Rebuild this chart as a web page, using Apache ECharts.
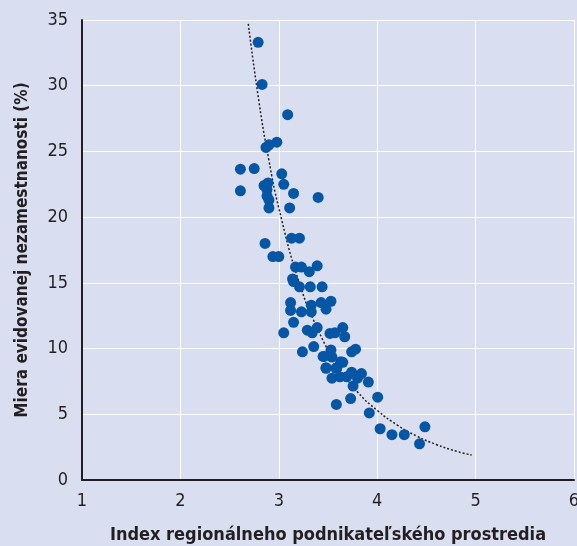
<!DOCTYPE html>
<html lang="sk">
<head>
<meta charset="UTF-8">
<title>Index regionálneho podnikateľského prostredia</title>
<script src="https://cdn.jsdelivr.net/npm/echarts@6/dist/echarts.min.js"></script>
<style>
  html, body { margin: 0; padding: 0; background: #d9dff0; }
  #main { width: 577px; height: 546px; }
</style>
</head>
<body>
<div id="main"></div>
<script>
// index regionálneho podnikateľského prostredia (x) a miera nezamestnanosti (y)
var indexVals = [
  2.79, 2.83, 3.09, 2.98, 2.87, 2.90,
  2.61, 2.75, 3.03, 3.05, 2.85, 2.61, 2.88, 2.88, 2.90, 2.89, 3.15, 3.40, 2.90, 3.11,
  2.86, 3.13, 3.21, 2.94, 3.00, 3.17, 3.23, 3.39, 3.31, 3.14,
  3.15, 3.21, 3.32, 3.44, 3.12, 3.12, 3.23, 3.33, 3.33, 3.43, 3.53, 3.48,
  3.15, 3.05, 3.29, 3.34, 3.39, 3.52, 3.57, 3.65, 3.67,
  3.24, 3.355, 3.46, 3.53, 3.54, 3.63, 3.74, 3.78, 3.48, 3.59,
  3.45, 3.65, 3.48, 3.54, 3.58, 3.62, 3.69, 3.74, 3.84, 3.91, 3.80, 3.755,
  3.73, 3.585, 4.005, 3.92, 4.03, 4.15, 4.275, 4.485, 4.43
];
var unemployment = [
  33.3, 30.1, 27.8, 25.7, 25.3, 25.5,
  23.65, 23.7, 23.3, 22.5, 22.4, 22.0, 22.1, 21.6, 21.3, 22.6, 21.8, 21.5, 20.7, 20.7,
  18.0, 18.4, 18.4, 17.0, 17.0, 16.2, 16.2, 16.3, 15.85, 15.3,
  15.1, 14.7, 14.7, 14.7, 13.5, 12.9, 12.8, 13.3, 12.8, 13.5, 13.6, 13.0,
  12.0, 11.2, 11.4, 11.2, 11.6, 11.15, 11.2, 11.6, 10.9,
  9.75, 10.15, 9.4, 9.9, 9.35, 9.0, 9.75, 9.95, 8.55, 8.55,
  9.4, 8.95, 8.5, 7.75, 8.5, 7.85, 7.85, 8.2, 8.1, 7.45, 7.75, 7.15,
  6.2, 5.75, 6.3, 5.1, 3.9, 3.45, 3.45, 4.05, 2.75
];
// bodkovaná krivka trendu odčítaná z obrázka
var trendX = [2.69, 2.8, 2.9, 3.0, 3.2, 3.4, 3.6, 3.8, 4.0, 4.2, 4.4, 4.6, 4.8, 4.96];
var trendY = [34.7, 28.7, 24.3, 20.7, 15.2, 11.4, 8.7, 6.7, 5.3, 4.2, 3.35, 2.7, 2.2, 1.9];

var xTicks = [1, 2, 3, 4, 5, 6];
var yTicks = [0, 5, 10, 15, 20, 25, 30, 35];

var font = '"Liberation Sans Narrow", "DejaVu Sans Condensed", "Liberation Sans", sans-serif';

var points = indexVals.map(function (v, i) { return [v, unemployment[i]]; });
var trend = trendX.map(function (v, i) { return [v, trendY[i]]; });

var chart = echarts.init(document.getElementById('main'));
chart.setOption({
  backgroundColor: '#d9dff0',
  animation: false,
  grid: { left: 82, right: 3, top: 20, bottom: 66, outerBoundsMode: 'none' },
  xAxis: {
    type: 'value',
    min: xTicks[0], max: xTicks[xTicks.length - 1], interval: 1,
    name: 'Index regionálneho podnikateľského prostredia',
    nameLocation: 'middle', nameGap: 46,
    nameTextStyle: { fontFamily: font, fontWeight: 'bold', fontSize: 18, color: '#231f20' },
    axisLine: { show: true, lineStyle: { color: '#231f20', width: 2 } },
    axisTick: { show: false },
    axisLabel: { fontFamily: font, fontSize: 18, color: '#231f20', margin: 12 },
    splitLine: { show: true, lineStyle: { color: '#ffffff', width: 1 } }
  },
  yAxis: {
    type: 'value',
    min: yTicks[0], max: yTicks[yTicks.length - 1], interval: 5,
    name: 'Miera evidovanej nezamestnanosti (%)',
    nameLocation: 'middle', nameGap: 51, nameRotate: 90,
    nameTextStyle: { fontFamily: font, fontWeight: 'bold', fontSize: 17, color: '#231f20' },
    axisLine: { show: true, lineStyle: { color: '#231f20', width: 2 } },
    axisTick: { show: false },
    axisLabel: { fontFamily: font, fontSize: 18, color: '#231f20', margin: 14 },
    splitLine: { show: true, lineStyle: { color: '#ffffff', width: 1 } }
  },
  series: [
    {
      type: 'line',
      data: trend,
      smooth: true,
      showSymbol: false,
      lineStyle: { color: '#231f20', width: 1.5, type: [2, 2] },
      z: 1
    },
    {
      type: 'scatter',
      data: points,
      symbolSize: 11,
      itemStyle: { color: '#0656a6', opacity: 1 },
      z: 2
    }
  ]
});
</script>
</body>
</html>
